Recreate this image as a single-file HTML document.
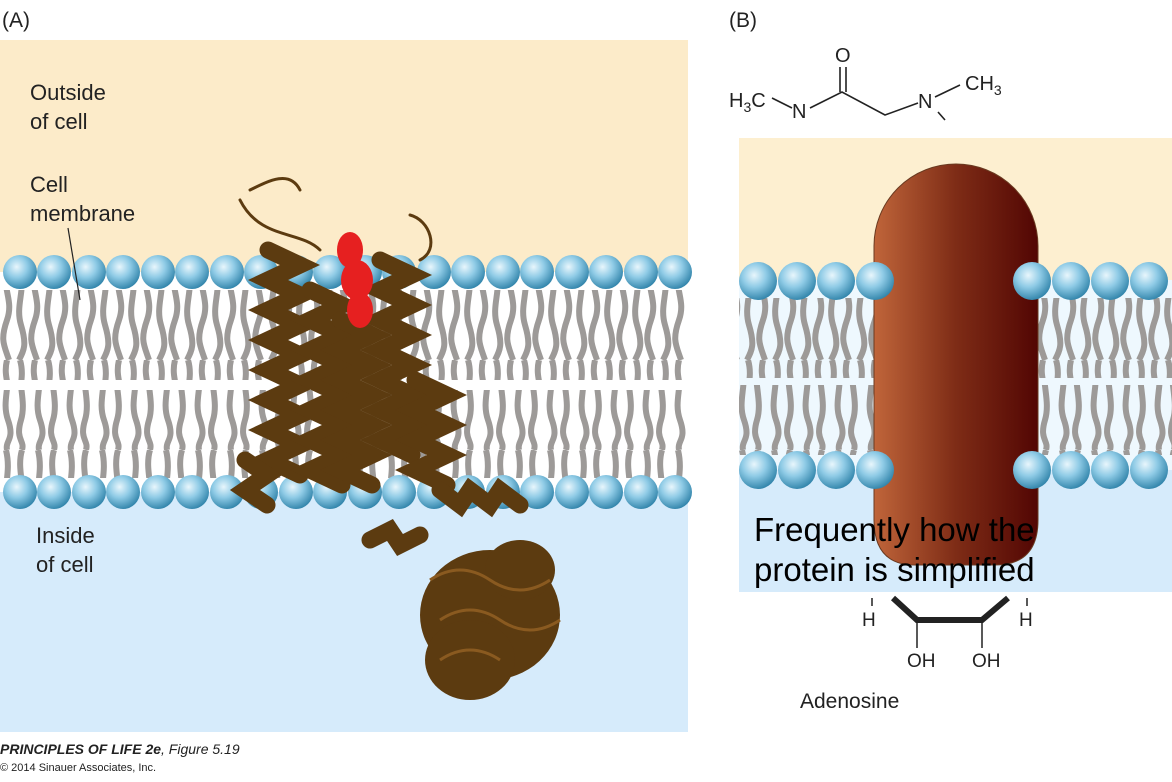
<!DOCTYPE html>
<html><head><style>
body{margin:0;width:1172px;height:777px;background:#fff;overflow:hidden;font-family:"Liberation Sans",sans-serif}
</style></head><body>
<svg width="1172" height="777" viewBox="0 0 1172 777" xmlns="http://www.w3.org/2000/svg" font-family="Liberation Sans, sans-serif">
<defs>
<radialGradient id="bd" cx="0.4" cy="0.35" r="0.7">
<stop offset="0" stop-color="#e8f6fc"/><stop offset="0.45" stop-color="#8fcbe6"/><stop offset="1" stop-color="#2a7fa6"/>
</radialGradient>
<linearGradient id="cap" x1="0" x2="1" y1="0" y2="0">
<stop offset="0" stop-color="#c0653a"/><stop offset="0.5" stop-color="#7e2c16"/><stop offset="1" stop-color="#520603"/>
</linearGradient>
<pattern id="lip" width="28" height="90" patternUnits="userSpaceOnUse">
<path d="M7 0 C2 20,14 30,7 50 S4 75,9 90 M20 0 C26 20,15 35,21 55 S24 80,19 90" stroke="#9d9a98" stroke-width="6" fill="none"/>
</pattern>
<pattern id="lip2" width="32" height="90" patternUnits="userSpaceOnUse">
<path d="M6 0 C12 25,1 40,8 60 S5 80,7 90 M22 0 C16 20,27 40,21 60 S25 80,22 90" stroke="#9d9a98" stroke-width="6" fill="none"/>
</pattern>
</defs>
<text x="2" y="27" font-size="21" fill="#222">(A)</text>
<text x="729" y="27" font-size="21" fill="#222">(B)</text>
<!-- Panel A -->
<rect x="0" y="40" width="688" height="232" fill="#fcebc9"/>
<rect x="0" y="272" width="688" height="220" fill="#fff"/>
<rect x="0" y="492" width="688" height="240" fill="#d6ebfb"/>
<rect x="0" y="290" width="688" height="90" fill="url(#lip)"/>
<rect x="0" y="390" width="688" height="88" fill="url(#lip2)"/>
<g fill="url(#bd)">
<circle cx="20" cy="272" r="17"/><circle cx="54" cy="272" r="17"/><circle cx="89" cy="272" r="17"/><circle cx="123" cy="272" r="17"/><circle cx="158" cy="272" r="17"/><circle cx="192" cy="272" r="17"/><circle cx="227" cy="272" r="17"/><circle cx="261" cy="272" r="17"/><circle cx="296" cy="272" r="17"/><circle cx="330" cy="272" r="17"/><circle cx="365" cy="272" r="17"/><circle cx="399" cy="272" r="17"/><circle cx="434" cy="272" r="17"/><circle cx="468" cy="272" r="17"/><circle cx="503" cy="272" r="17"/><circle cx="537" cy="272" r="17"/><circle cx="572" cy="272" r="17"/><circle cx="606" cy="272" r="17"/><circle cx="641" cy="272" r="17"/><circle cx="675" cy="272" r="17"/>
<circle cx="20" cy="492" r="17"/><circle cx="54" cy="492" r="17"/><circle cx="89" cy="492" r="17"/><circle cx="123" cy="492" r="17"/><circle cx="158" cy="492" r="17"/><circle cx="192" cy="492" r="17"/><circle cx="227" cy="492" r="17"/><circle cx="261" cy="492" r="17"/><circle cx="296" cy="492" r="17"/><circle cx="330" cy="492" r="17"/><circle cx="365" cy="492" r="17"/><circle cx="399" cy="492" r="17"/><circle cx="434" cy="492" r="17"/><circle cx="468" cy="492" r="17"/><circle cx="503" cy="492" r="17"/><circle cx="537" cy="492" r="17"/><circle cx="572" cy="492" r="17"/><circle cx="606" cy="492" r="17"/><circle cx="641" cy="492" r="17"/><circle cx="675" cy="492" r="17"/>
</g>
<text font-size="22" fill="#222"><tspan x="30" y="100">Outside</tspan><tspan x="30" y="129">of cell</tspan></text>
<text font-size="22" fill="#222"><tspan x="30" y="192">Cell</tspan><tspan x="30" y="221">membrane</tspan></text>
<line x1="68" y1="228" x2="80" y2="300" stroke="#222" stroke-width="1.2"/>
<text font-size="22" fill="#222"><tspan x="36" y="543">Inside</tspan><tspan x="36" y="572">of cell</tspan></text>
<!-- protein -->
<g stroke="#5c3b10" fill="none" stroke-linecap="round">
<path d="M250 190 C270 180,290 170,300 190 M240 200 C260 240,300 230,320 250 M410 215 C430 220,440 250,420 260" stroke-width="3"/>
<g stroke-width="17">
<path d="M268 250 l32 15 l-32 15 l32 15 l-32 15 l32 15 l-32 15 l32 15 l-32 15 l32 15 l-32 15 l32 15 l-32 15 l32 15 l-32 15 l32 15"/>
<path d="M310 290 l32 15 l-32 15 l32 15 l-32 15 l32 15 l-32 15 l32 15 l-32 15 l32 15 l-32 15 l32 15 l-32 15 l32 15"/>
<path d="M340 320 l32 15 l-32 15 l32 15 l-32 15 l32 15 l-32 15 l32 15 l-32 15 l32 15 l-32 15 l32 15"/>
<path d="M380 260 l32 15 l-32 15 l32 15 l-32 15 l32 15 l-32 15 l32 15 l-32 15 l32 15 l-32 15 l32 15 l-32 15 l32 15"/>
<path d="M415 380 l32 15 l-32 15 l32 15 l-32 15 l32 15 l-32 15 l32 15"/>
<path d="M440 490 l20 15 l10 -15 l20 15 l10 -15 l20 15"/>
<path d="M245 460 l22 15 l-22 15 l22 15"/>
<path d="M370 540 l20 -10 l10 15 l20 -10"/>
</g>
</g>
<g fill="#5c3b10">
<ellipse cx="490" cy="615" rx="70" ry="65"/>
<ellipse cx="470" cy="660" rx="45" ry="40"/>
<ellipse cx="520" cy="570" rx="35" ry="30"/>
</g>
<g stroke="#8a5a20" stroke-width="3" fill="none">
<path d="M430 580 q30 -20 60 0 q30 20 60 0 M440 620 q30 -20 60 0 q30 20 60 0 M440 660 q30 -20 60 0"/>
</g>
<g fill="#e62020">
<ellipse cx="350" cy="250" rx="13" ry="18"/><ellipse cx="357" cy="280" rx="16" ry="20"/><ellipse cx="360" cy="310" rx="13" ry="18"/>
</g>
<text x="0" y="754" font-size="14" font-weight="bold" font-style="italic" fill="#222">PRINCIPLES OF LIFE 2e<tspan font-weight="normal">, Figure 5.19</tspan></text>
<text x="0" y="771" font-size="11" fill="#222">© 2014 Sinauer Associates, Inc.</text>
<!-- Panel B chemistry -->
<g font-size="20" fill="#222">
<text x="729" y="107">H<tspan font-size="14" dy="5">3</tspan><tspan dy="-5">C</tspan></text>
<text x="792" y="118">N</text>
<text x="835" y="62">O</text>
<text x="918" y="108">N</text>
<text x="965" y="90">CH<tspan font-size="14" dy="5">3</tspan></text>
</g>
<g stroke="#222" stroke-width="1.6" fill="none">
<path d="M772 98 L792 108 M810 108 L842 92 L885 115 L918 103 M935 97 L960 85 M938 112 L945 120"/>
<path d="M840 67 L840 92 M846 67 L846 92"/>
</g>
<!-- Panel B -->
<rect x="739" y="138" width="433" height="142" fill="#fdefd0"/>
<rect x="739" y="280" width="433" height="190" fill="#eef8fe"/>
<rect x="739" y="470" width="433" height="122" fill="#d6ebfb"/>
<rect x="739" y="298" width="140" height="80" fill="url(#lip)"/>
<rect x="739" y="385" width="140" height="70" fill="url(#lip2)"/>
<rect x="1030" y="298" width="142" height="80" fill="url(#lip)"/>
<rect x="1030" y="385" width="142" height="70" fill="url(#lip2)"/>
<path d="M874 246 A82 82 0 0 1 1038 246 L1038 520 Q1038 565 995 565 L915 565 Q874 565 874 520 Z" fill="url(#cap)" stroke="#6a3a20" stroke-width="1"/>
<g fill="url(#bd)">
<circle cx="758" cy="281" r="19"/><circle cx="797" cy="281" r="19"/><circle cx="836" cy="281" r="19"/><circle cx="875" cy="281" r="19"/>
<circle cx="1032" cy="281" r="19"/><circle cx="1071" cy="281" r="19"/><circle cx="1110" cy="281" r="19"/><circle cx="1149" cy="281" r="19"/>
<circle cx="758" cy="470" r="19"/><circle cx="797" cy="470" r="19"/><circle cx="836" cy="470" r="19"/><circle cx="875" cy="470" r="19"/>
<circle cx="1032" cy="470" r="19"/><circle cx="1071" cy="470" r="19"/><circle cx="1110" cy="470" r="19"/><circle cx="1149" cy="470" r="19"/>
</g>
<text font-size="33" fill="#000"><tspan x="754" y="541">Frequently how the</tspan><tspan x="754" y="581">protein is simplified</tspan></text>
<!-- adenosine fragment -->
<path d="M893 598 L917 620 L982 620 L1008 598" stroke="#222" stroke-width="6" fill="none"/>
<g stroke="#222" stroke-width="1.5"><path d="M917 620 L917 648 M982 620 L982 648 M872 598 L872 606 M1027 598 L1027 606"/></g>
<g font-size="19" fill="#222">
<text x="862" y="626">H</text><text x="1019" y="626">H</text>
<text x="907" y="667">OH</text><text x="972" y="667">OH</text>
</g>
<text x="800" y="708" font-size="21" fill="#222">Adenosine</text>
</svg>
</body></html>
